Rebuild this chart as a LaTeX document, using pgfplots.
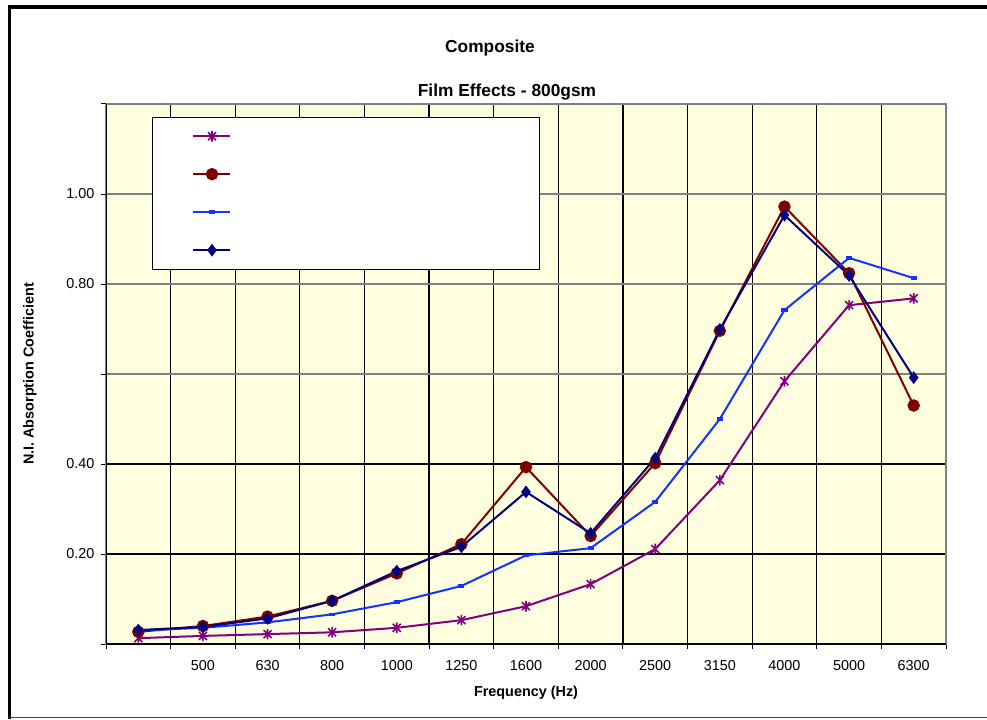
\documentclass[border=0pt]{standalone}
\usepackage{pgfplots}
\pgfplotsset{compat=1.18}
\usepackage{fontspec}
\setmainfont{Liberation Sans}

\definecolor{plotbg}{RGB}{255,255,224}
\definecolor{cpurple}{RGB}{128,0,128}
\definecolor{cred}{RGB}{128,0,0}
\definecolor{cblue}{RGB}{20,50,255}
\definecolor{cnavy}{RGB}{0,0,128}
\definecolor{frame}{RGB}{128,128,128}

% one unit = one pixel of the finished image
\def\u{0.75pt}

% star marker: an X crossed by a vertical stroke
\pgfdeclareplotmark{xstar}{%
  \pgfpathmoveto{\pgfqpoint{0pt}{\pgfplotmarksize}}%
  \pgfpathlineto{\pgfqpoint{0pt}{-\pgfplotmarksize}}%
  \pgfpathmoveto{\pgfqpoint{-0.75\pgfplotmarksize}{-0.75\pgfplotmarksize}}%
  \pgfpathlineto{\pgfqpoint{0.75\pgfplotmarksize}{0.75\pgfplotmarksize}}%
  \pgfpathmoveto{\pgfqpoint{-0.75\pgfplotmarksize}{0.75\pgfplotmarksize}}%
  \pgfpathlineto{\pgfqpoint{0.75\pgfplotmarksize}{-0.75\pgfplotmarksize}}%
  \pgfusepathqstroke}

\begin{document}
\begin{tikzpicture}
\useasboundingbox (0,0) rectangle (987*\u,719*\u);
% chart frame
\draw[black, line width=3.5*\u] (9.3*\u,0) -- (9.3*\u,712*\u) -- (987*\u,712*\u);
\draw[black!75, line width=1.5*\u] (9.3*\u,1.5*\u) -- (987*\u,1.5*\u);
% titles
\node[anchor=base, font=\fontsize{13}{15}\selectfont\bfseries] at (490*\u,666*\u) {Composite};
\node[anchor=base, font=\fontsize{13}{15}\selectfont\bfseries] at (507*\u,622*\u) {Film Effects - 800gsm};

\begin{axis}[
  at={(106*\u,75*\u)}, anchor=south west,
  scale only axis, width=840*\u, height=540*\u,
  xmin=-0.5, xmax=12.5, ymin=0, ymax=1.2,
  xtick={-0.5,0.5,...,12.5},
  xticklabels={,500,630,800,1000,1250,1600,2000,2500,3150,4000,5000,6300},
  x tick label as interval,
  ytick={0,0.2,0.4},
  yticklabels={,0.20,0.40},
  extra y ticks={0.6,0.8,1.0,1.2},
  extra y tick labels={,0.80,1.00,},
  extra y tick style={major grid style={frame, line width=2*\u}},
  tick pos=left, tick align=outside,
  major tick length=5*\u,
  every tick/.style={black, line width=1*\u},
  grid=major,
  major grid style={black, line width=1.2*\u},
  axis line style={draw=frame, line width=2*\u},
  axis background/.style={fill=plotbg},
  /pgf/number format/assume math mode=true,
  tick label style={font=\fontsize{10.8}{12}\selectfont},
  xticklabel style={anchor=north, yshift=-7*\u},
  yticklabel style={anchor=east, xshift=-2*\u},
  xlabel={Frequency (Hz)},
  ylabel={N.I. Absorption Coefficient},
  label style={font=\fontsize{10.8}{12}\selectfont\bfseries},
  xlabel style={at={(axis description cs:0.5,-52/540)}, anchor=base},
  ylabel style={at={(axis description cs:-76/840,0.5)}, anchor=center},
  legend style={at={(46/840,527.3/540)}, anchor=north west,
    draw=black, line width=1*\u, fill=white,
    inner xsep=30pt, inner ysep=0pt, row sep=0pt, column sep=0pt,
    nodes={inner sep=0pt, minimum height=28.5pt}},
  legend cell align=left,
  legend image code/.code={%
    \draw[mark repeat=2,mark phase=2] plot coordinates {(0pt,0pt) (13.9pt,0pt) (27.75pt,0pt)};},
]
\addplot[color=cpurple, line width=2*\u, mark=xstar, mark size=4pt,
  mark options={line width=1.6*\u}] coordinates {
  (0,0.013) (1,0.018) (2,0.022) (3,0.026) (4,0.036) (5,0.053) (6,0.084)
  (7,0.133) (8,0.211) (9,0.364) (10,0.584) (11,0.753) (12,0.768)};
\addplot[color=cred, line width=2*\u, mark=*, mark size=3.9pt,
  mark options={fill=cred}] coordinates {
  (0,0.027) (1,0.040) (2,0.061) (3,0.096) (4,0.157) (5,0.222) (6,0.393)
  (7,0.240) (8,0.402) (9,0.696) (10,0.972) (11,0.824) (12,0.530)};
\addplot[color=cblue, line width=2*\u, mark=-, mark size=2.3pt,
  mark options={line width=3.5*\u}] coordinates {
  (0,0.030) (1,0.036) (2,0.048) (3,0.066) (4,0.093) (5,0.129) (6,0.197)
  (7,0.213) (8,0.316) (9,0.500) (10,0.742) (11,0.858) (12,0.813)};
\addplot[color=cnavy, line width=2*\u, mark=diamond*, mark size=3.6pt,
  mark options={fill=cnavy}] coordinates {
  (0,0.031) (1,0.038) (2,0.057) (3,0.096) (4,0.162) (5,0.216) (6,0.338)
  (7,0.246) (8,0.413) (9,0.699) (10,0.953) (11,0.819) (12,0.592)};
\legend{\makebox[201pt]{},\makebox[201pt]{},\makebox[201pt]{},\makebox[201pt]{}}
% x and y axis lines drawn over the grey plot-area border
\draw[black, line width=1.5*\u] (axis description cs:0,1) -- (axis description cs:0,0) -- (axis description cs:1,0);
\end{axis}
\end{tikzpicture}
\end{document}
